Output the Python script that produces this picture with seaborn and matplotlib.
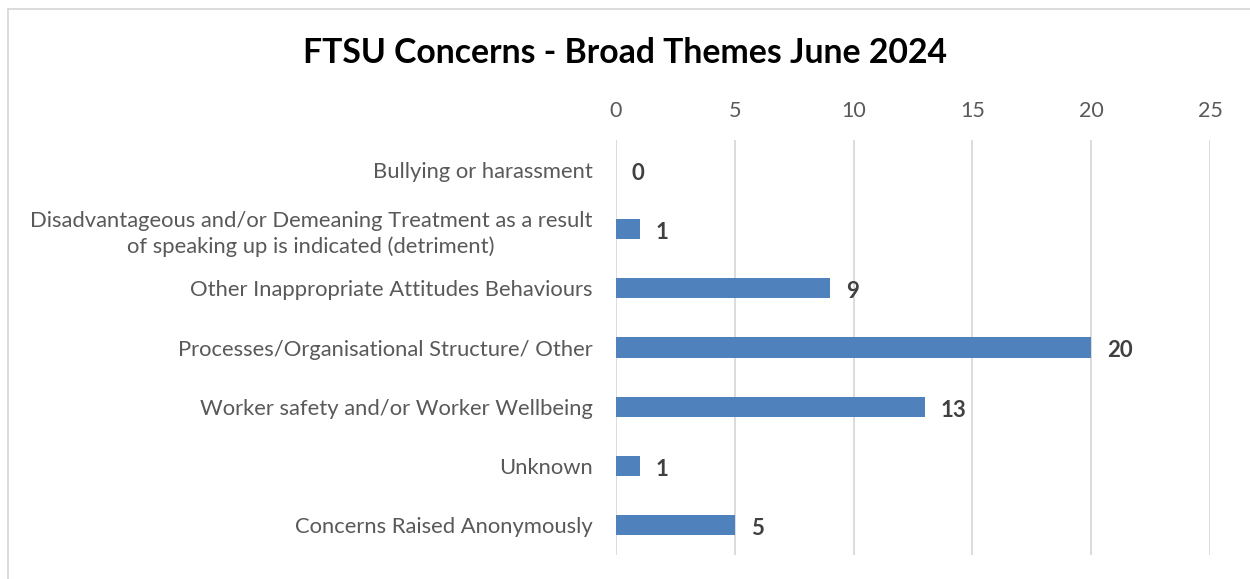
import matplotlib
matplotlib.use("Agg")
import matplotlib.pyplot as plt
from matplotlib.lines import Line2D
import seaborn as sns
import pandas as pd

# Concern themes and counts
themes = [
    "Bullying or harassment",
    "Disadvantageous and/or Demeaning Treatment as a result\nof speaking up is indicated (detriment)",
    "Other Inappropriate Attitudes Behaviours",
    "Processes/Organisational Structure/ Other",
    "Worker safety and/or Worker Wellbeing",
    "Unknown",
    "Concerns Raised Anonymously",
]
counts = [0, 1, 9, 20, 13, 1, 5]
x_ticks = [0, 5, 10, 15, 20, 25]
title = "FTSU Concerns - Broad Themes June 2024"

df = pd.DataFrame({"theme": themes, "count": counts})

sns.set_theme(style="white")
plt.rcParams["font.family"] = ["Lato", "DejaVu Sans"]

W, H = 1250, 579
fig = plt.figure(figsize=(W / 100, H / 100), dpi=100)
ax = fig.add_axes([616 / W, 1 - 555 / H, (1210 - 616) / W, (555 - 140) / H])

bar_color = "#4F81BD"
sns.barplot(data=df, x="count", y="theme", orient="h", color=bar_color,
            width=0.34, saturation=1, ax=ax, edgecolor="none")

ax.set_xlim(0, 25)
ax.set_ylim(len(themes) - 0.5, -0.5)
ax.set_xticks(x_ticks)
ax.xaxis.tick_top()
ax.xaxis.set_label_position("top")
ax.set_xlabel("")
ax.set_ylabel("")
ax.tick_params(axis="x", length=0, pad=14, labelsize=15.5, labelcolor="#595959")
ax.tick_params(axis="y", length=0, pad=17, labelsize=15.8, labelcolor="#595959")
for lbl in ax.get_yticklabels():
    lbl.set_multialignment("center")
    lbl.set_linespacing(1.35)

ax.grid(axis="x", color="#D9D9D9", linewidth=1.3)
ax.set_axisbelow(True)
for s in ax.spines.values():
    s.set_visible(False)

# value labels at the end of each bar
for i, v in enumerate(counts):
    ax.annotate(str(v), xy=(v, i), xytext=(11.5, -2.5), textcoords="offset points",
                ha="left", va="center", fontsize=16, fontweight="bold",
                color="#404040")

fig.text(0.5, 1 - 53 / H, title, ha="center", va="center",
         fontsize=24.3, fontweight="bold", color="black")

# chart frame (left and top edges)
fig.add_artist(Line2D([7.5 / W, 7.5 / W], [0, 1 - 8.5 / H], transform=fig.transFigure,
                      color="#D9D9D9", linewidth=1.3))
fig.add_artist(Line2D([7.5 / W, 1], [1 - 8.5 / H, 1 - 8.5 / H], transform=fig.transFigure,
                      color="#D9D9D9", linewidth=1.3))

fig.savefig("out.png", dpi=100, facecolor="white")
